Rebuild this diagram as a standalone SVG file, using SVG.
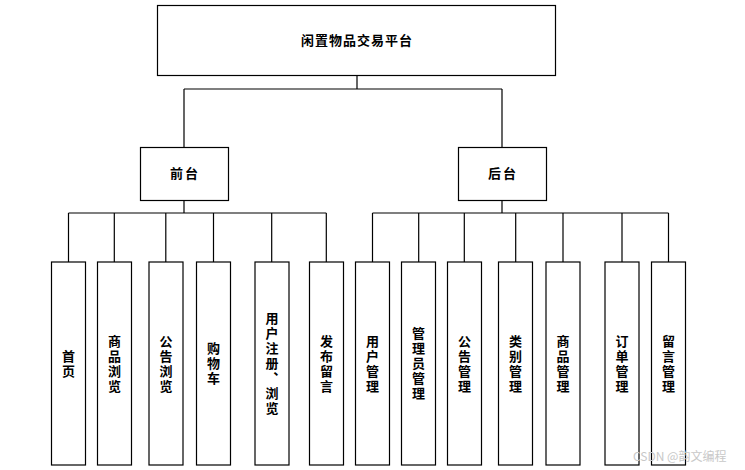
<svg xmlns="http://www.w3.org/2000/svg" width="745" height="470" viewBox="0 0 745 470">
<style>
.box{fill:#fff;stroke:#000;stroke-width:1.2}
.ln{fill:none;stroke:#000;stroke-width:1.2}
.t{font-family:"Noto Sans CJK SC","Liberation Serif",serif;font-weight:bold;font-size:13px;fill:#000;text-anchor:middle}
.v{font-family:"Noto Sans CJK SC","Liberation Serif",serif;font-weight:bold;font-size:13px;fill:#000;text-anchor:middle;writing-mode:vertical-rl;letter-spacing:2px}
.wm{font-family:"Noto Sans CJK SC","Liberation Sans",sans-serif;font-size:12px;fill:#c8c8c8}
</style>
<rect width="745" height="470" fill="#fff"/>
<g id="connectors">
<path class="ln" d="M357,76V89M184,89H502M184,89V147M502,89V147"/>
<path class="ln" d="M184,200V213M68.5,213H326.3M68.5,213V262M114.3,213V262M165.8,213V262M213.5,213V262M271.7,213V262M326.3,213V262"/>
<path class="ln" d="M502,200V213M372.5,213H668.5M372.5,213V262M418.7,213V262M464.3,213V262M515.7,213V262M563,213V262M622,213V262M668.5,213V262"/>
</g>
<g id="root"><rect class="box" x="157.5" y="5.5" width="398" height="70"/><text class="t" x="357" y="45" letter-spacing="1">闲置物品交易平台</text></g>
<g id="front"><rect class="box" x="140.5" y="147.5" width="88" height="53"/><text class="t" x="185" y="178" letter-spacing="2">前台</text></g>
<g id="back"><rect class="box" x="458.5" y="147.5" width="88" height="53"/><text class="t" x="503" y="178" letter-spacing="2">后台</text></g>
<g id="f1"><rect class="box" x="51.5" y="262" width="34" height="203"/><text class="v" x="68.5" y="364.5">首页</text></g>
<g id="f2"><rect class="box" x="97.5" y="262" width="34" height="203"/><text class="v" x="114.5" y="364.5">商品浏览</text></g>
<g id="f3"><rect class="box" x="149" y="262" width="34" height="203"/><text class="v" x="166" y="364.5">公告浏览</text></g>
<g id="f4"><rect class="box" x="196.5" y="262" width="34" height="203"/><text class="v" x="213.5" y="364.5">购物车</text></g>
<g id="f5"><rect class="box" x="255" y="262" width="34" height="203"/><text class="v" x="272" y="364.5">用户注册、浏览</text></g>
<g id="f6"><rect class="box" x="309.5" y="262" width="34" height="203"/><text class="v" x="326.5" y="364.5">发布留言</text></g>
<g id="b1"><rect class="box" x="355.5" y="262" width="34" height="203"/><text class="v" x="372.5" y="364.5">用户管理</text></g>
<g id="b2"><rect class="box" x="401.5" y="262" width="34" height="203"/><text class="v" x="418.5" y="364.5">管理员管理</text></g>
<g id="b3"><rect class="box" x="447.5" y="262" width="34" height="203"/><text class="v" x="464.5" y="364.5">公告管理</text></g>
<g id="b4"><rect class="box" x="498.5" y="262" width="34" height="203"/><text class="v" x="515.5" y="364.5">类别管理</text></g>
<g id="b5"><rect class="box" x="546" y="262" width="34" height="203"/><text class="v" x="563" y="364.5">商品管理</text></g>
<g id="b6"><rect class="box" x="605" y="262" width="34" height="203"/><text class="v" x="622" y="364.5">订单管理</text></g>
<g id="b7"><rect class="box" x="651.5" y="262" width="34" height="203"/><text class="v" x="668.5" y="364.5">留言管理</text></g>
<text class="wm" x="633" y="461">CSDN @韵文编程</text>
</svg>
